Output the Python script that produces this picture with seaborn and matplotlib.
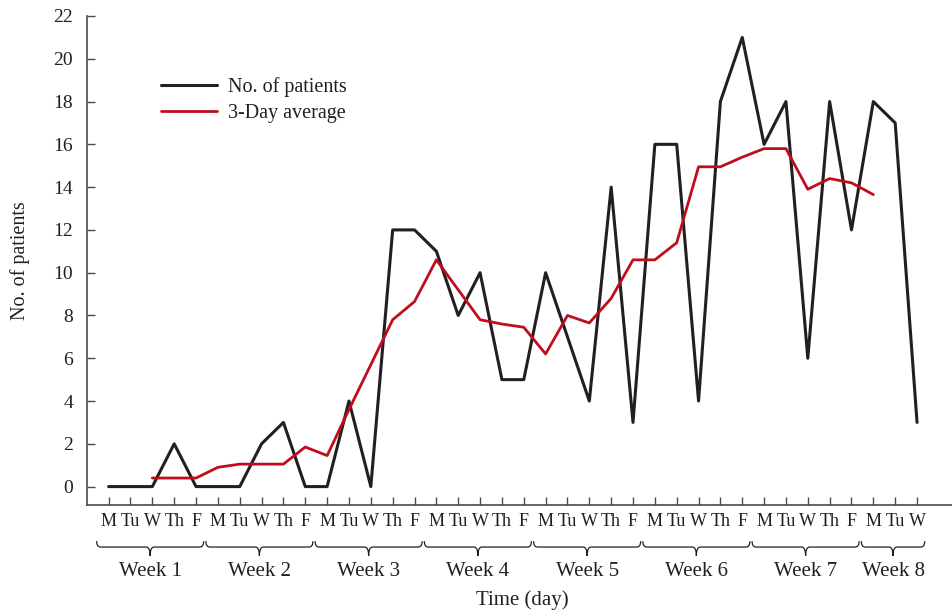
import numpy as np
import pandas as pd
import seaborn as sns
import matplotlib.pyplot as plt
from matplotlib.path import Path
from matplotlib.patches import PathPatch

# data
weeks = ["Week 1", "Week 2", "Week 3", "Week 4", "Week 5", "Week 6", "Week 7", "Week 8"]
days = ["M", "Tu", "W", "Th", "F"] * 7 + ["M", "Tu", "W"]
patients = [0, 0, 0, 2, 0, 0, 0, 2, 3, 0, 0, 4, 0, 12, 12, 11, 8, 10, 5, 5,
            10, 7, 4, 14, 3, 16, 16, 4, 18, 21, 16, 18, 6, 18, 12, 18, 17, 3]
avg_start = 2
avg3 = [0.4, 0.4, 0.4, 0.9, 1.05, 1.05, 1.05, 1.85, 1.45, 3.6, 5.7, 7.8, 8.65,
        10.6, 9.2, 7.8, 7.6, 7.45, 6.2, 8.0, 7.65, 8.8, 10.6, 10.6, 11.4,
        14.95, 14.95, 15.4, 15.8, 15.8, 13.9, 14.4, 14.2, 13.65]

df_pat = pd.DataFrame({"day": np.arange(len(patients)), "n": patients})
df_avg = pd.DataFrame({"day": np.arange(avg_start, avg_start + len(avg3)), "n": avg3})

sns.set_theme(style="ticks")
plt.rcParams['font.family'] = ['Liberation Serif', 'DejaVu Serif']
txt = "#231f20"
spine_c = "#4a4a4a"

fig = plt.figure(figsize=(9.52, 6.13), dpi=100)
ax = fig.add_axes([0.0914, 0.1762, 0.9086, 0.7977])

sns.lineplot(data=df_pat, x="day", y="n", ax=ax, color="#231f20", lw=2.2,
             label="No. of patients")
sns.lineplot(data=df_avg, x="day", y="n", ax=ax, color="#c00d1e", lw=2.0,
             label="3-Day average")

ax.set_xlim(-0.99, 38.6)
ax.set_ylim(-0.86, 22)
ax.set_yticks(range(0, 23, 2))
ax.set_xticks(range(len(days)))
ax.set_xticklabels(days)
ax.tick_params(axis="both", direction="in", length=6, width=1, color=spine_c,
               labelsize=14, labelcolor=txt)
ax.tick_params(axis="x", pad=6, labelsize=13)
ax.tick_params(axis="y", pad=10)
for s in ["top", "right"]:
    ax.spines[s].set_visible(False)
for s in ["left", "bottom"]:
    ax.spines[s].set_color(spine_c)
    ax.spines[s].set_linewidth(1.2)

ax.set_xlabel("")
ax.set_ylabel("No. of patients", fontsize=14.5, color=txt)
ax.yaxis.set_label_coords(-0.066, 0.5)
ax.text(0.503, -0.175, "Time (day)", transform=ax.transAxes, ha="center",
        va="top", fontsize=15, color=txt)

# braces and week labels
tr = ax.get_xaxis_transform()
y_top, y_mid, y_tip = -0.074, -0.086, -0.104
d = 0.18
for k, wk in enumerate(weeks):
    first = 5 * k
    last = min(5 * k + 4, len(days) - 1)
    x0, x1 = first - 0.55, last + 0.35
    xc = (x0 + x1) / 2
    verts = [(x0, y_top), (x0, y_mid), (x0 + d, y_mid),
             (xc - d, y_mid), (xc, y_mid), (xc, y_tip),
             (xc, y_mid), (xc + d, y_mid),
             (x1 - d, y_mid), (x1, y_mid), (x1, y_top)]
    codes = [Path.MOVETO, Path.CURVE3, Path.CURVE3,
             Path.LINETO, Path.CURVE3, Path.CURVE3,
             Path.CURVE3, Path.CURVE3,
             Path.LINETO, Path.CURVE3, Path.CURVE3]
    ax.add_patch(PathPatch(Path(verts, codes), transform=tr, fill=False,
                           lw=0.9, edgecolor=txt, clip_on=False))
    ax.text(xc, -0.137, wk, transform=tr, ha="center", va="center",
            fontsize=15, color=txt)

leg = ax.legend(loc="upper left", bbox_to_anchor=(0.086, 0.8755), frameon=False,
                fontsize=14.5, handlelength=2.75, handletextpad=0.55,
                labelspacing=0.35, borderaxespad=0, borderpad=0)
for t in leg.get_texts():
    t.set_color(txt)

fig.savefig("out.png", dpi=100)
